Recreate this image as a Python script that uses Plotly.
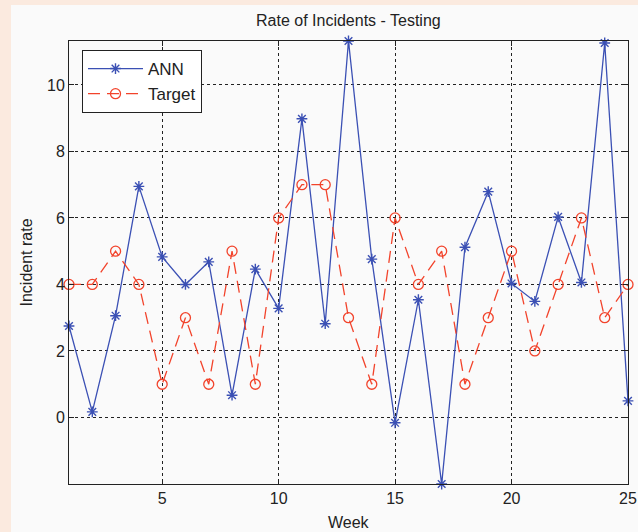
import plotly.graph_objects as go

weeks = list(range(1, 26))
ann = [2.75, 0.17, 3.06, 6.95, 4.83, 4.0, 4.68, 0.67, 4.46, 3.28,
       8.98, 2.82, 11.32, 4.76, -0.16, 3.54, -2.0, 5.12, 6.79, 4.03,
       3.49, 6.03, 4.06, 11.26, 0.5]
target = [4, 4, 5, 4, 1, 3, 1, 5, 1, 6,
          7, 7, 3, 1, 6, 4, 5, 1, 3, 5,
          2, 4, 6, 3, 4]
x_ticks = [5, 10, 15, 20, 25]
y_ticks = [0, 2, 4, 6, 8, 10]

BLUE = "#3b50b4"
RED = "#f2432b"
FONT = "Liberation Sans, Arial, sans-serif"

W, H = 638, 532
L, R, T, B = 69, 10, 41, 48
pw, ph = W - L - R, H - T - B

fig = go.Figure()
fig.add_trace(go.Scatter(
    x=weeks, y=ann, name="ANN", mode="lines+markers",
    line=dict(color=BLUE, width=1.3),
    marker=dict(symbol="asterisk-open", size=9, color=BLUE, line=dict(color=BLUE, width=1.4)),
    cliponaxis=False,
))
fig.add_trace(go.Scatter(
    x=weeks, y=target, name="Target", mode="lines+markers",
    line=dict(color=RED, width=1.3, dash="12px,7px"),
    marker=dict(symbol="circle-open", size=10, color=RED, line=dict(color=RED, width=1.3)),
    cliponaxis=False,
))

axis_common = dict(
    showline=True, linecolor="#222", linewidth=1, mirror="ticks",
    ticks="inside", ticklen=5, tickcolor="#222",
    showgrid=True, gridcolor="#222", gridwidth=1, griddash="3px,3px",
    zeroline=False, tickfont=dict(family=FONT, size=16, color="#222"),
    ticklabeloverflow="allow", automargin=False,
)
fig.update_xaxes(range=[1, 25], tickvals=x_ticks, **axis_common)
fig.update_yaxes(range=[-2.0, 11.32], tickvals=y_ticks, **axis_common)

fig.update_layout(
    width=W, height=H,
    margin=dict(l=L, r=R, t=T, b=B, autoexpand=False),
    paper_bgcolor="#fbeadf",
    plot_bgcolor="#ffffff",
    showlegend=True,
    legend=dict(
        x=(82 - L) / pw, y=1 - (50 - T) / ph, xanchor="left", yanchor="top",
        bgcolor="#ffffff", bordercolor="#222", borderwidth=1,
        font=dict(family=FONT, size=17, color="#222"),
        tracegroupgap=0, itemwidth=55,
    ),
    shapes=[dict(
        type="rect", xref="paper", yref="paper", layer="below",
        x0=(11 - L) / pw, x1=(W + 5 - L) / pw,
        y0=-(B + 5) / ph, y1=1 + (T - 5) / ph,
        fillcolor="#fafafa", line=dict(width=0),
    )],
    annotations=[
        dict(text="Rate of Incidents - Testing", xref="paper", yref="paper",
             x=0.5, y=1 + (T - 20) / ph, showarrow=False,
             font=dict(family=FONT, size=16, color="#222"), xanchor="center", yanchor="middle"),
        dict(text="Week", xref="paper", yref="paper",
             x=0.5, y=-(522 - T - ph) / ph, showarrow=False,
             font=dict(family=FONT, size=16, color="#222"), xanchor="center", yanchor="middle"),
        dict(text="Incident rate", xref="paper", yref="paper",
             x=(26 - L) / pw, y=0.5, showarrow=False, textangle=-90,
             font=dict(family=FONT, size=16, color="#222"), xanchor="center", yanchor="middle"),
    ],
)

fig.write_html("out.html")
